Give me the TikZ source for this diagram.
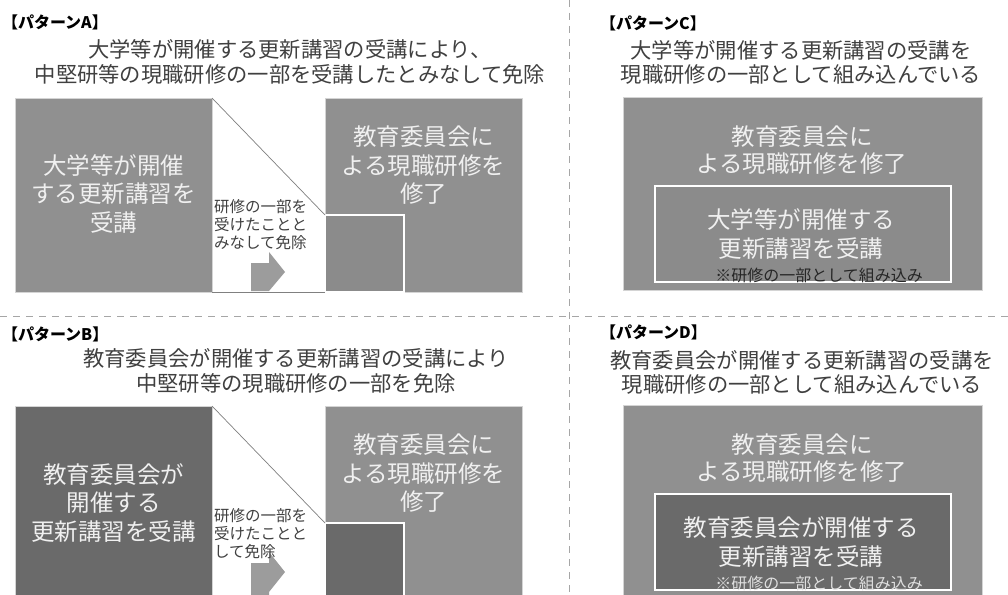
\documentclass[tikz,border=0pt]{standalone}
\usepackage{fontspec}
\setmainfont{Noto Sans CJK JP}
\definecolor{midgray}{HTML}{909090}
\definecolor{innergray}{HTML}{8B8B8B}
\definecolor{darkgray}{HTML}{6A6A6A}
\definecolor{boxline}{HTML}{D4D4D4}
\definecolor{boxtext}{HTML}{F0F0F0}
\definecolor{titletext}{HTML}{404040}
\definecolor{sepgray}{HTML}{A6A6A6}
\definecolor{arrowgray}{HTML}{9C9C9C}
\begin{document}
\begin{tikzpicture}[x=1pt,y=-1pt,
  every node/.style={inner sep=0pt,outer sep=0pt},
  bigbox/.style={rectangle,draw=boxline,line width=0.8pt,anchor=north west},
  smallbox/.style={rectangle,draw=white,line width=1.8pt,anchor=north west},
  labeltext/.style={anchor=west,font=\fontsize{16pt}{18pt}\selectfont\bfseries,text=black},
  titlestyle/.style={align=center,text=titletext,font=\fontsize{21.3pt}{24.5pt}\selectfont},
  inbox/.style={align=center,text=boxtext,font=\fontsize{23.5pt}{28.5pt}\selectfont},
  midtext/.style={anchor=west,align=left,text=titletext,font=\fontsize{15.5pt}{18pt}\selectfont},
  notetext/.style={font=\fontsize{16pt}{18pt}\selectfont},
  conn/.style={draw=gray,line width=0.7pt},
  sepline/.style={draw=sepgray,line width=0.9pt,dash pattern=on 7pt off 6pt},
  blockarrow/.style={fill=arrowgray,draw=none}
]
\useasboundingbox (0,0) rectangle (1008,594);
\clip (0,0) rectangle (1008,594);
\fill[white] (0,0) rectangle (1008,594);

% separators
\coordinate (vtop) at (569.5,0);
\coordinate (vbot) at (569.5,594);
\coordinate (hleft) at (0,316);
\coordinate (hright) at (1008,316);
\draw[sepline] (vtop) -- (vbot);
\draw[sepline] (hleft) -- (hright);

% ---------------- Pattern A ----------------
\node[labeltext] (Alabel) at (2,22) {【パターンA】};
\node[titlestyle] (Atitle) at (290,62) {大学等が開催する更新講習の受講により、\\中堅研等の現職研修の一部を受講したとみなして免除};
\node[bigbox,fill=midgray,minimum width=197pt,minimum height=194pt] (Aleft) at (15,98) {};
\node[bigbox,fill=midgray,minimum width=197pt,minimum height=194pt] (Aright) at (325,98) {};
\node[smallbox,fill=innergray,minimum width=79pt,minimum height=77pt] (Asmall) at (325,215) {};
\draw[conn] (Aleft.north east) -- (Asmall.north west);
\draw[conn] (Aleft.south east) -- (Asmall.south west);
\fill[blockarrow] (251,263) -- (269,263) -- (269,252) -- (285,272) -- (269,291) -- (251,291) -- cycle;
\node[inbox] (Alefttext) at (113.5,193.5) {大学等が開催\\する更新講習を\\受講};
\node[inbox] (Arighttext) at (423.5,165.5) {教育委員会に\\よる現職研修を\\修了};
\node[midtext] (Amid) at (214,225) {研修の一部を\\受けたことと\\みなして免除};

% ---------------- Pattern B ----------------
\node[labeltext] (Blabel) at (2,334) {【パターンB】};
\node[titlestyle] (Btitle) at (296,371) {教育委員会が開催する更新講習の受講により\\中堅研等の現職研修の一部を免除};
\node[bigbox,fill=darkgray,minimum width=197pt,minimum height=194pt] (Bleft) at (15,406) {};
\node[bigbox,fill=midgray,minimum width=197pt,minimum height=194pt] (Bright) at (325,406) {};
\node[smallbox,fill=darkgray,minimum width=79pt,minimum height=77pt] (Bsmall) at (325,523) {};
\draw[conn] (Bleft.north east) -- (Bsmall.north west);
\fill[blockarrow] (251,563) -- (269,563) -- (269,552) -- (285,572) -- (269,592) -- (269,596) -- (251,596) -- cycle;
\node[inbox] (Blefttext) at (113.5,503) {教育委員会が\\開催する\\更新講習を受講};
\node[inbox] (Brighttext) at (423.5,473.5) {教育委員会に\\よる現職研修を\\修了};
\node[midtext] (Bmid) at (214,534) {研修の一部を\\受けたことと\\して免除};

% ---------------- Pattern C ----------------
\node[labeltext] (Clabel) at (600,23) {【パターンC】};
\node[titlestyle] (Ctitle) at (801,62.5) {大学等が開催する更新講習の受講を\\現職研修の一部として組み込んでいる};
\node[bigbox,fill=midgray,minimum width=359pt,minimum height=193pt] (Couter) at (623,97) {};
\node[smallbox,fill=innergray,minimum width=296pt,minimum height=96pt] (Cinner) at (655,186) {};
\node[inbox,font=\fontsize{23.5pt}{27pt}\selectfont] (Coutertext) at (802,150.5) {教育委員会に\\よる現職研修を修了};
\node[inbox] (Cinnertext) at (801,234) {大学等が開催する\\更新講習を受講};
\node[notetext,text=black!85] (Cnote) at (819,275) {※研修の一部として組み込み};

% ---------------- Pattern D ----------------
\node[labeltext] (Dlabel) at (600,332) {【パターンD】};
\node[titlestyle] (Dtitle) at (802,372.5) {教育委員会が開催する更新講習の受講を\\現職研修の一部として組み込んでいる};
\node[bigbox,fill=midgray,minimum width=359pt,minimum height=193pt] (Douter) at (623,405) {};
\node[smallbox,fill=darkgray,minimum width=296pt,minimum height=96pt] (Dinner) at (655,494) {};
\node[inbox,font=\fontsize{23.5pt}{27pt}\selectfont] (Doutertext) at (802,458.5) {教育委員会に\\よる現職研修を修了};
\node[inbox] (Dinnertext) at (801,542) {教育委員会が開催する\\更新講習を受講};
\node[notetext,text=boxtext!85!gray] (Dnote) at (819,583) {※研修の一部として組み込み};
\end{tikzpicture}
\end{document}
